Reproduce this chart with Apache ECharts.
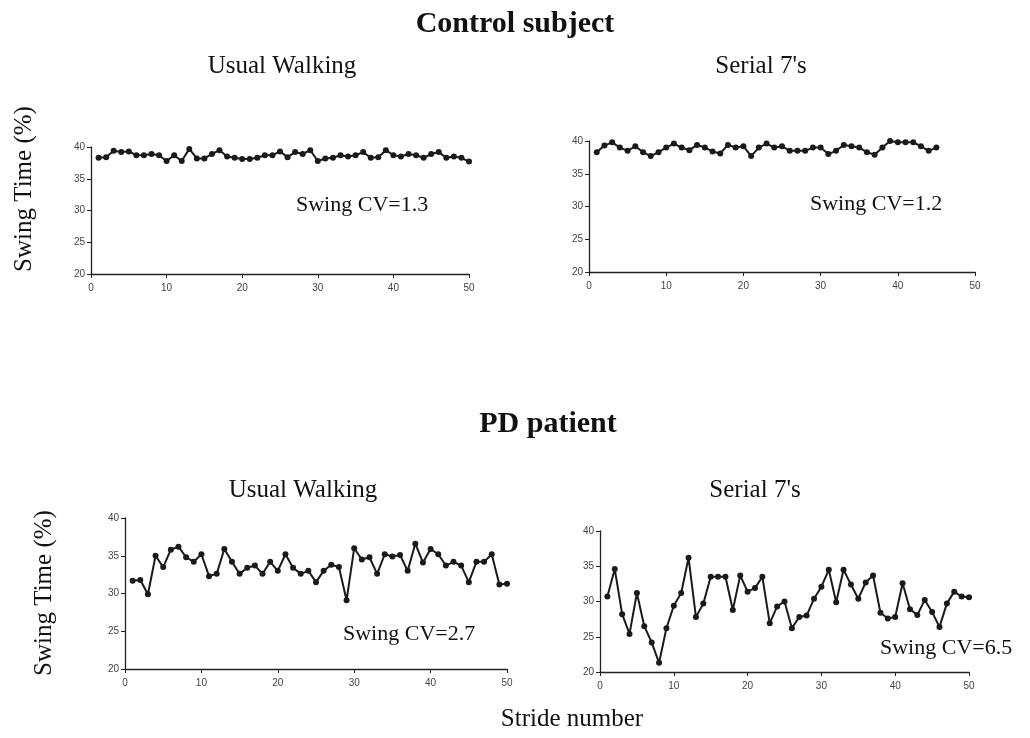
<!DOCTYPE html>
<html>
<head>
<meta charset="utf-8">
<script src="https://cdn.jsdelivr.net/npm/echarts@6/dist/echarts.min.js"></script>
<style>
html,body{margin:0;padding:0;background:#fff;}
#chart{width:1030px;height:738px;}
</style>
</head>
<body>
<div id="chart"></div>
<script>
// ---- data ----
const strides = [1,2,3,4,5,6,7,8,9,10,11,12,13,14,15,16,17,18,19,20,21,22,23,24,25,26,27,28,29,30,31,32,33,34,35,36,37,38,39,40,41,42,43,44,45,46,47,48,49,50];
const xTicks = [0,10,20,30,40,50];
const yTicks = [20,25,30,35,40];

const controlUsual = [38.3,38.4,39.4,39.2,39.3,38.7,38.7,38.9,38.7,37.8,38.7,37.8,39.7,38.2,38.2,38.9,39.5,38.5,38.3,38.1,38.1,38.3,38.7,38.7,39.3,38.4,39.2,38.9,39.5,37.8,38.2,38.3,38.7,38.5,38.7,39.2,38.3,38.4,39.5,38.7,38.5,38.9,38.7,38.3,38.9,39.2,38.3,38.5,38.3,37.7];
const controlSerial7 = [38.3,39.3,39.8,39.0,38.5,39.2,38.3,37.7,38.3,39.0,39.6,39.0,38.6,39.4,39.0,38.4,38.1,39.4,39.0,39.2,37.7,39.0,39.6,39.0,39.2,38.5,38.5,38.5,39.0,39.0,38.0,38.5,39.4,39.2,39.0,38.3,37.9,39.0,40.0,39.8,39.8,39.8,39.2,38.5,39.0];
const pdUsual = [31.7,31.8,29.9,35.0,33.5,35.8,36.2,34.8,34.2,35.2,32.3,32.6,35.9,34.2,32.6,33.4,33.7,32.6,34.2,33.0,35.2,33.4,32.6,33.0,31.5,33.0,33.8,33.5,29.1,36.0,34.5,34.8,32.6,35.2,34.9,35.1,33.0,36.6,34.1,35.9,35.2,33.7,34.2,33.7,31.5,34.2,34.2,35.2,31.2,31.3];
const pdSerial7 = [30.7,34.6,28.2,25.4,31.2,26.5,24.2,21.3,26.2,29.4,31.2,36.2,27.8,29.7,33.5,33.5,33.5,28.8,33.7,31.4,31.9,33.5,26.9,29.3,30.0,26.2,27.8,28.0,30.4,32.1,34.5,29.9,34.5,32.4,30.4,32.7,33.7,28.4,27.6,27.8,32.6,28.9,28.1,30.2,28.5,26.4,29.7,31.4,30.7,30.6];

const panelTitles = ["Usual Walking","Serial 7's","Usual Walking","Serial 7's"];
const cvLabels = ["Swing CV=1.3","Swing CV=1.2","Swing CV=2.7","Swing CV=6.5"];
const groupTitles = ["Control subject","PD patient"];
const yAxisTitle = "Swing Time (%)";
const xAxisTitle = "Stride number";

// ---- layout ----
const seriesList = [controlUsual, controlSerial7, pdUsual, pdSerial7];
const grids = [
  {left:91, top:147, width:378, height:127},
  {left:589, top:141, width:386, height:131},
  {left:125, top:518, width:382, height:151},
  {left:600, top:531, width:369, height:141}
];
const serif = "'Liberation Serif','Times New Roman',serif";
const sans = "'Liberation Sans',Arial,sans-serif";

const option = {
  backgroundColor:'#fff',
  animation:false,
  grid: grids.map(g => Object.assign({containLabel:false}, g)),
  xAxis: grids.map((g,i) => ({
    type:'value', gridIndex:i, min:xTicks[0], max:xTicks[xTicks.length-1], interval:10,
    axisLine:{show:true, onZero:false, lineStyle:{color:'#222', width:1.3}},
    axisTick:{show:true, length:4, lineStyle:{color:'#222'}},
    axisLabel:{color:'#444', fontSize:10, fontFamily:sans, margin:9},
    splitLine:{show:false}
  })),
  yAxis: grids.map((g,i) => ({
    type:'value', gridIndex:i, min:yTicks[0], max:yTicks[yTicks.length-1], interval:5,
    axisLine:{show:true, lineStyle:{color:'#222', width:1.3}},
    axisTick:{show:true, length:4, lineStyle:{color:'#222'}},
    axisLabel:{color:'#444', fontSize:10, fontFamily:sans, margin:6},
    splitLine:{show:false}
  })),
  series: seriesList.map((arr,i) => ({
    type:'line', xAxisIndex:i, yAxisIndex:i,
    data: arr.map((v,k) => [strides[k], v]),
    symbol:'circle', symbolSize:6,
    itemStyle:{color:'#1a1a1a'},
    lineStyle:{color:'#1a1a1a', width:2},
    silent:true
  })),
  graphic: [
    {type:'text', left:'center', top:9, style:{text:groupTitles[0], font:"bold 30px "+serif, fill:'#111'}},
    {type:'text', x:548, y:409, style:{text:groupTitles[1], font:"bold 30px "+serif, fill:'#111', textAlign:'center'}},
    {type:'text', x:282, y:54, style:{text:panelTitles[0], font:"25px "+serif, fill:'#111', textAlign:'center'}},
    {type:'text', x:761, y:54, style:{text:panelTitles[1], font:"25px "+serif, fill:'#111', textAlign:'center'}},
    {type:'text', x:303, y:478, style:{text:panelTitles[2], font:"25px "+serif, fill:'#111', textAlign:'center'}},
    {type:'text', x:755, y:478, style:{text:panelTitles[3], font:"25px "+serif, fill:'#111', textAlign:'center'}},
    {type:'text', x:296, y:194, style:{text:cvLabels[0], font:"22px "+serif, fill:'#111'}},
    {type:'text', x:810, y:193, style:{text:cvLabels[1], font:"22px "+serif, fill:'#111'}},
    {type:'text', x:343, y:623, style:{text:cvLabels[2], font:"22px "+serif, fill:'#111'}},
    {type:'text', x:880, y:637, style:{text:cvLabels[3], font:"22px "+serif, fill:'#111'}},
    {type:'text', x:572, y:707, style:{text:xAxisTitle, font:"25px "+serif, fill:'#111', textAlign:'center'}},
    {type:'text', x:12, y:189, rotation:Math.PI/2, style:{text:yAxisTitle, font:"25px "+serif, fill:'#111', textAlign:'center', textVerticalAlign:'top'}},
    {type:'text', x:32, y:593, rotation:Math.PI/2, style:{text:yAxisTitle, font:"25px "+serif, fill:'#111', textAlign:'center', textVerticalAlign:'top'}}
  ]
};
const chart = echarts.init(document.getElementById('chart'), null, {renderer:'canvas'});
chart.setOption(option);
</script>
</body>
</html>
